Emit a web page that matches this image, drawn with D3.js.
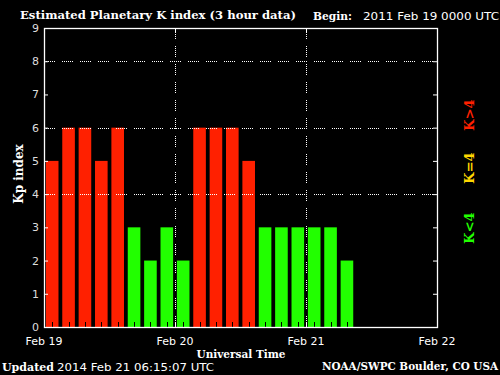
<!DOCTYPE html>
<html>
<head>
<meta charset="utf-8">
<script src="https://cdn.jsdelivr.net/npm/d3@7"></script>
<style>
  body { margin: 0; background: #000; }
  svg { display: block; }
</style>
</head>
<body>
<script>
// Kp values, one per 3-hour slot from 2011 Feb 19 00 UT
var kpValues = [5, 6, 6, 5, 6, 3, 2, 3,
                2, 6, 6, 6, 5, 3, 3, 3,
                3, 3, 2];
var dayLabels = ["Feb 19", "Feb 20", "Feb 21", "Feb 22"];
var kpTicks = [0, 1, 2, 3, 4, 5, 6, 7, 8, 9];
var gridLevels = [4, 6, 8];

var width = 500, height = 375;
// note: "top" is taken by window.top, so plot edges get a prefix
var plotL = 44, plotR = 437, plotT = 28, plotB = 327;

var svg = d3.select("body").append("svg")
    .attr("width", width)
    .attr("height", height)
    .style("background-color", "#000");

var x = d3.scaleLinear().domain([0, 24]).range([plotL, plotR]);   // 3-hour slots, 3 days
var y = d3.scaleLinear().domain([0, 9]).range([plotB, plotT]);

var colorOf = k => k > 4 ? "#ff2000" : (k == 4 ? "#ffd700" : "#22ff00");

// dotted groups like the original gif
var dots = "1,1,1,1,1,1,1,1,1,1,1,7";

// bars
svg.selectAll("rect.bar")
    .data(kpValues)
    .enter()
        .append("rect")
        .attr("class", "bar")
        .attr("x", (d, i) => x(i + 0.5) - 6.3)
        .attr("width", 12.6)
        .attr("y", d => y(d))
        .attr("height", d => y(0) - y(d))
        .attr("fill", d => colorOf(d));

// small black ticks at bottom of each slot
svg.selectAll("line.slotTick")
    .data(kpValues)
    .enter()
        .append("line")
        .attr("x1", (d, i) => Math.round(x(i + 0.5)) + 0.5)
        .attr("x2", (d, i) => Math.round(x(i + 0.5)) + 0.5)
        .attr("y1", plotB)
        .attr("y2", plotB - 5)
        .attr("stroke", "#000")
        .attr("stroke-width", 1);

// dotted grid
svg.selectAll("line.hgrid")
    .data(gridLevels)
    .enter()
        .append("line")
        .attr("x1", plotL)
        .attr("x2", plotR)
        .attr("y1", d => Math.round(y(d)) + 0.5)
        .attr("y2", d => Math.round(y(d)) + 0.5)
        .attr("stroke", "#fff")
        .attr("stroke-dasharray", dots)
        .attr("stroke-width", 1);

svg.selectAll("line.vgrid")
    .data([8, 16])
    .enter()
        .append("line")
        .attr("x1", d => Math.round(x(d)) + 0.5)
        .attr("x2", d => Math.round(x(d)) + 0.5)
        .attr("y1", plotT)
        .attr("y2", plotB)
        .attr("stroke", "#fff")
        .attr("stroke-dasharray", dots)
        .attr("stroke-width", 1);

// frame
svg.append("rect")
    .attr("x", plotL + 0.5)
    .attr("y", plotT + 0.5)
    .attr("width", plotR - plotL)
    .attr("height", plotB - plotT)
    .attr("fill", "none")
    .attr("stroke", "#fff")
    .attr("stroke-width", 1.3);

// axes ticks (inside)
var yAxisL = d3.axisRight(y).tickValues(kpTicks).tickSize(4).tickFormat("");
var yAxisR = d3.axisLeft(y).tickValues(kpTicks).tickSize(4).tickFormat("");
var xTop = d3.axisBottom(x).tickValues([8, 16]).tickSize(5).tickFormat("");
var xBot = d3.axisTop(x).tickValues([8, 16]).tickSize(5).tickFormat("");

[[yAxisL, `translate(${plotL},0)`], [yAxisR, `translate(${plotR},0)`],
 [xTop, `translate(0,${plotT})`], [xBot, `translate(0,${plotB})`]].forEach(a => {
    var g = svg.append("g").attr("transform", a[1]).call(a[0]);
    g.select(".domain").remove();
    g.selectAll("line").attr("stroke", "#fff");
});

// y tick labels
svg.selectAll("text.ylab")
    .data(kpTicks)
    .enter()
        .append("text")
        .attr("x", 39)
        .attr("y", d => y(d) + 4)
        .attr("text-anchor", "end")
        .attr("fill", "#ddd")
        .style("font", "11px 'DejaVu Sans'")
        .text(d => d);

// x day labels
svg.selectAll("text.xlab")
    .data(dayLabels)
    .enter()
        .append("text")
        .attr("x", (d, i) => x(i * 8))
        .attr("y", 345)
        .attr("text-anchor", "middle")
        .attr("fill", "#fff")
        .style("font", "11px 'DejaVu Sans'")
        .text(d => d);

var serifBold = "bold 11px 'DejaVu Serif'";

svg.append("text")
    .attr("x", 20).attr("y", 19)
    .attr("fill", "#fff")
    .attr("textLength", 276).attr("lengthAdjust", "spacingAndGlyphs")
    .style("font", serifBold)
    .text("Estimated Planetary K index (3 hour data)");

svg.append("text")
    .attr("x", 313).attr("y", 20)
    .attr("fill", "#fff")
    .attr("textLength", 39).attr("lengthAdjust", "spacingAndGlyphs")
    .style("font", serifBold)
    .text("Begin:");

svg.append("text")
    .attr("x", 363).attr("y", 20)
    .attr("fill", "#fff")
    .attr("textLength", 136).attr("lengthAdjust", "spacingAndGlyphs")
    .style("font", "11px 'DejaVu Sans'")
    .text("2011 Feb 19 0000 UTC");

svg.append("text")
    .attr("transform", "translate(23,174) rotate(-90)")
    .attr("text-anchor", "middle")
    .attr("fill", "#fff")
    .style("font", "bold 12px 'DejaVu Serif'")
    .text("Kp index");

svg.append("text")
    .attr("x", 241).attr("y", 358)
    .attr("text-anchor", "middle")
    .attr("fill", "#fff")
    .attr("textLength", 89).attr("lengthAdjust", "spacingAndGlyphs")
    .style("font", serifBold)
    .text("Universal Time");

svg.append("text")
    .attr("x", 2).attr("y", 371)
    .attr("fill", "#fff")
    .attr("textLength", 52).attr("lengthAdjust", "spacingAndGlyphs")
    .style("font", serifBold)
    .text("Updated");

svg.append("text")
    .attr("x", 57).attr("y", 371)
    .attr("fill", "#fff")
    .attr("textLength", 157).attr("lengthAdjust", "spacingAndGlyphs")
    .style("font", "11px 'DejaVu Sans'")
    .text("2014 Feb 21 06:15:07 UTC");

svg.append("text")
    .attr("x", 498).attr("y", 370)
    .attr("text-anchor", "end")
    .attr("fill", "#fff")
    .attr("textLength", 176).attr("lengthAdjust", "spacingAndGlyphs")
    .style("font", "bold 10.5px 'DejaVu Serif'")
    .text("NOAA/SWPC Boulder, CO USA");

// legend on the right
var legend = [["K>4", "#ff2000", 115], ["K=4", "#ffd700", 168], ["K<4", "#22ff00", 228]];
svg.selectAll("text.leg")
    .data(legend)
    .enter()
        .append("text")
        .attr("transform", d => `translate(474,${d[2]}) rotate(-90)`)
        .attr("text-anchor", "middle")
        .attr("fill", d => d[1])
        .style("font", "bold 13px 'DejaVu Serif'")
        .text(d => d[0]);
</script>
</body>
</html>
